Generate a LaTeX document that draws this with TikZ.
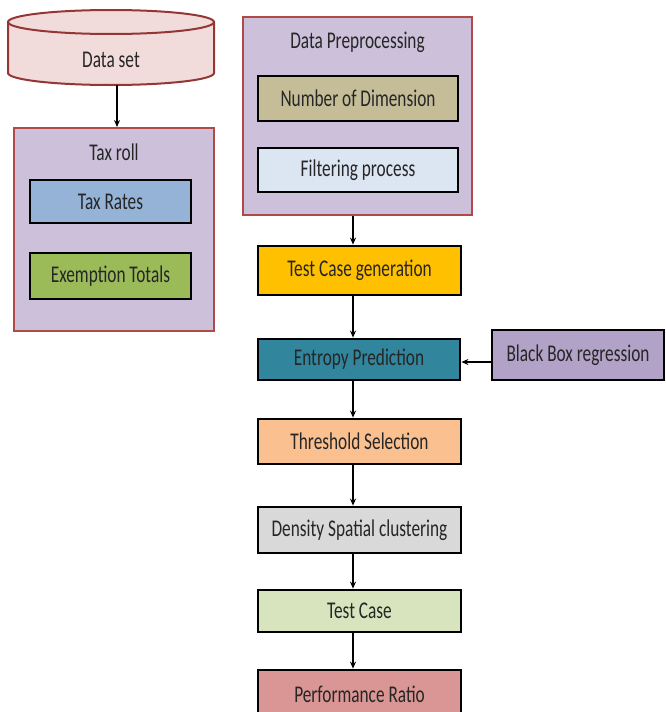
\documentclass[tikz,border=0pt]{standalone}
\usepackage{fontspec}
\newfontfamily\cf[FakeStretch=0.72]{Carlito}
\usetikzlibrary{arrows.meta}
\definecolor{txt}{HTML}{262626}
\definecolor{cylfill}{HTML}{F2DCDB}
\definecolor{cylline}{HTML}{943634}
\definecolor{grpfill}{HTML}{CCC0DA}
\definecolor{grpline}{HTML}{B04A48}
\definecolor{ctaxr}{HTML}{95B3D7}
\definecolor{cexem}{HTML}{9BBB59}
\definecolor{cnod}{HTML}{C4BD97}
\definecolor{cfilt}{HTML}{DCE6F2}
\definecolor{ctcg}{HTML}{FFC000}
\definecolor{cent}{HTML}{31859C}
\definecolor{cbb}{HTML}{B3A2C7}
\definecolor{cthr}{HTML}{FAC090}
\definecolor{cdens}{HTML}{D9D9D9}
\definecolor{ctc}{HTML}{D7E4BD}
\definecolor{cpr}{HTML}{D99694}
\tikzset{
  lbl/.style={font=\cf\fontsize{24}{26}\selectfont, text=txt},
  inbox/.style={lbl, draw=black, line width=2.8pt, inner sep=0pt},
  grp/.style={draw=grpline, line width=2pt, fill=grpfill, inner sep=0pt},
  arr/.style={-{Stealth[length=7pt,width=6pt]}, line width=1.3pt, black},
}
\begin{document}
\begin{tikzpicture}[x=1pt,y=-1pt]
\useasboundingbox (0,0) rectangle (665,712);
\clip (0,0) rectangle (665,712);
% Data set cylinder
\draw[draw=cylline, line width=2pt, fill=cylfill]
  (8,22) -- (8,73) arc[start angle=180, end angle=0, x radius=103, y radius=12]
  -- (214,22) arc[start angle=0, end angle=-180, x radius=103, y radius=12] -- cycle;
\draw[draw=cylline, line width=2pt]
  (8,22) arc[start angle=180, end angle=0, x radius=103, y radius=12];
\node[lbl, inner sep=0pt, minimum width=206pt, minimum height=51pt] (ds) at (111,59.5) {Data set};
% Tax roll group
\node[grp, minimum width=200pt, minimum height=203pt] (tax) at (114,229.5) {};
\node[lbl, anchor=center] (taxt) at (114,152) {Tax roll};
\node[inbox, fill=ctaxr, minimum width=161pt, minimum height=43pt] (taxr) at (110.5,201.5) {Tax Rates};
\node[inbox, fill=cexem, minimum width=161pt, minimum height=46pt] (exem) at (110.5,276) {Exemption Totals};
% Data preprocessing group
\node[grp, minimum width=229pt, minimum height=198pt] (dp) at (357.5,116) {};
\node[lbl] (dpt) at (357.5,42) {Data Preprocessing};
\node[inbox, fill=cnod, minimum width=200pt, minimum height=45pt] (nod) at (358,98.5) {Number of Dimension};
\node[inbox, fill=cfilt, minimum width=200pt, minimum height=44pt] (filt) at (358,170) {Filtering process};
% main chain
\node[inbox, fill=ctcg, minimum width=203pt, minimum height=49pt] (tcg) at (359.5,270.5) {Test Case generation};
\node[inbox, fill=cent, minimum width=202pt, minimum height=41pt] (ent) at (359,359.5) {Entropy Prediction};
\node[inbox, fill=cbb, minimum width=172pt, minimum height=50pt] (bb) at (578,355) {Black Box regression};
\node[inbox, fill=cthr, minimum width=203pt, minimum height=45pt] (thr) at (359.5,441.5) {Threshold Selection};
\node[inbox, fill=cdens, minimum width=203pt, minimum height=46pt] (dens) at (359.5,530) {Density Spatial clustering};
\node[inbox, fill=ctc, minimum width=203pt, minimum height=42pt] (tc) at (359.5,611) {Test Case};
\node[inbox, fill=cpr, minimum width=203pt, minimum height=52pt, text depth=0pt] (pr) at (359.5,696) {\raisebox{3pt}{Performance Ratio}};
% connectors
\draw[arr] (ds.south -| 117,0) -- (tax.north -| 117,0);
\draw[arr] (dp.south -| 353,0) -- (tcg.north -| 353,0);
\draw[arr] (tcg.south -| 353,0) -- (ent.north -| 353,0);
\draw[arr] (ent.south -| 353,0) -- (thr.north -| 353,0);
\draw[arr] (thr.south -| 353,0) -- (dens.north -| 353,0);
\draw[arr] (dens.south -| 353,0) -- (tc.north -| 353,0);
\draw[arr] (tc.south -| 353,0) -- (pr.north -| 353,0);
\draw[arr] (bb.west |- 0,362) -- (ent.east |- 0,362);
\end{tikzpicture}
\end{document}
